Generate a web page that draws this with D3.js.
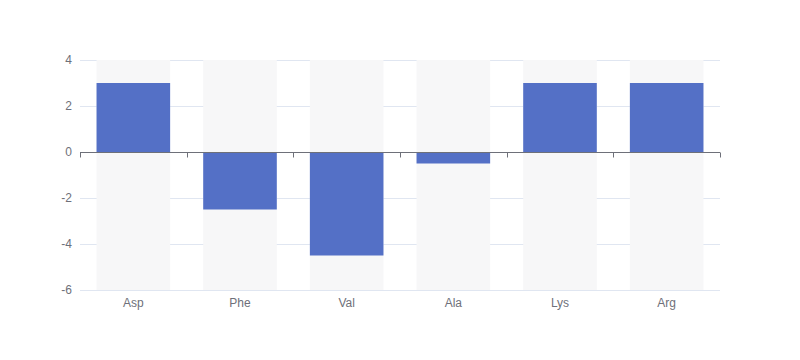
<!DOCTYPE html>
<html><head><meta charset="utf-8">
<script src="https://cdn.jsdelivr.net/npm/d3@7"></script>
<style>body{margin:0;background:#fff}svg{display:block}</style>
</head><body>
<svg id="c" width="800" height="360"></svg>
<script>
const categories = ["Asp","Phe","Val","Ala","Lys","Arg"];
const values = [3, -2.5, -4.5, -0.5, 3, 3];
const yTicks = [-6, -4, -2, 0, 2, 4];

(function () {
const svg = d3.select("#c");
const mLeft = 80, mRight = 720, mTop = 60, mBottom = 290;
const x = d3.scaleBand().domain(categories).range([mLeft, mRight]);
const y = d3.scaleLinear().domain([-6, 4]).range([mBottom, mTop]);
const font = "sans-serif";
const bw = x.bandwidth() * 0.69;

// grid lines
svg.append("g").selectAll("line").data(yTicks.filter(d => d !== 0)).join("line")
  .attr("x1", mLeft).attr("x2", mRight)
  .attr("y1", d => Math.round(y(d)) + 0.5).attr("y2", d => Math.round(y(d)) + 0.5)
  .attr("stroke", "#e0e6f1").attr("stroke-width", 1);

// background bars
svg.append("g").selectAll("rect").data(categories).join("rect")
  .attr("x", d => x(d) + (x.bandwidth() - bw) / 2)
  .attr("width", bw)
  .attr("y", mTop).attr("height", mBottom - mTop)
  .attr("fill", "#f7f7f8");

// bars
svg.append("g").selectAll("rect").data(values).join("rect")
  .attr("x", (d, i) => x(categories[i]) + (x.bandwidth() - bw) / 2)
  .attr("width", bw)
  .attr("y", d => Math.min(y(d), y(0)))
  .attr("height", d => Math.abs(y(d) - y(0)))
  .attr("fill", "#5470c6");

// y labels
const yAxis = d3.axisLeft(y).tickValues(yTicks).tickFormat(d => String(d)).tickSize(0).tickPadding(8);
const gy = svg.append("g").attr("transform", `translate(${mLeft},0)`).call(yAxis);
gy.select(".domain").remove();
gy.selectAll("text").attr("fill", "#6e7079").attr("font-size", 12).attr("font-family", font);

// x axis at zero
const bounds = categories.map(c => x(c)).concat([mRight]);
const y0 = Math.round(y(0)) + 0.5;
svg.append("line").attr("x1", mLeft).attr("x2", mRight)
  .attr("y1", y0).attr("y2", y0)
  .attr("stroke", "#6e7079").attr("stroke-width", 1);
svg.append("g").selectAll("line").data(bounds).join("line")
  .attr("x1", d => Math.round(d) + 0.5).attr("x2", d => Math.round(d) + 0.5)
  .attr("y1", y0).attr("y2", y0 + 5)
  .attr("stroke", "#6e7079").attr("stroke-width", 1);

// x labels
svg.append("g").selectAll("text").data(categories).join("text")
  .attr("x", d => x(d) + x.bandwidth() / 2)
  .attr("y", mBottom + 17)
  .attr("text-anchor", "middle")
  .attr("fill", "#6e7079").attr("font-size", 12).attr("font-family", font)
  .text(d => d);
})();
</script>
</body></html>
